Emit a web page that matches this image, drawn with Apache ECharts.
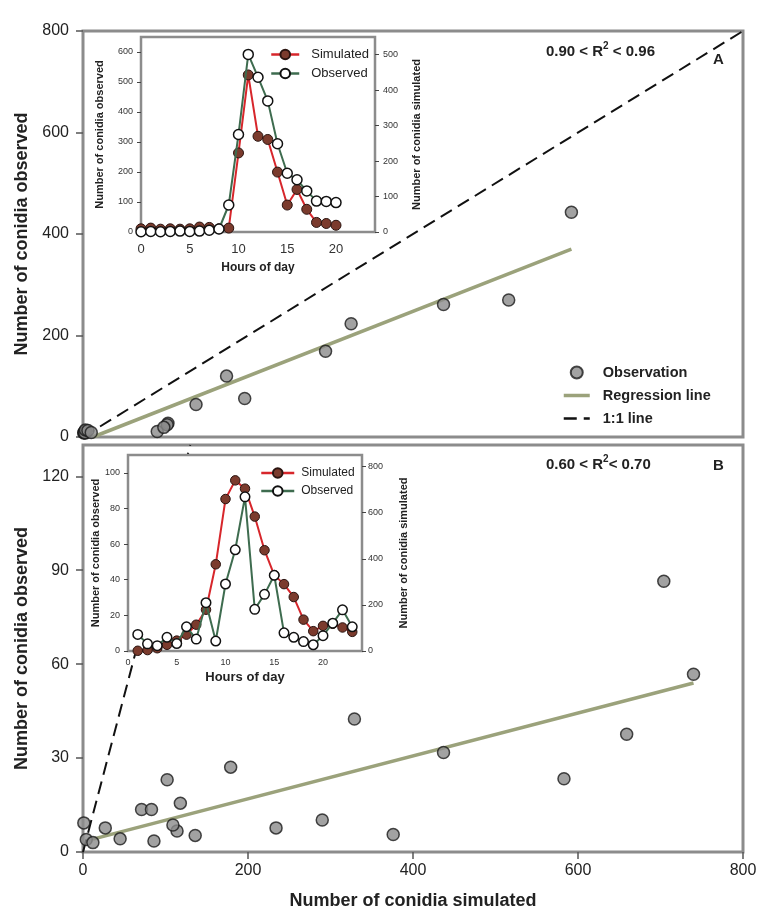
<!DOCTYPE html>
<html><head><meta charset="utf-8">
<script src="https://cdn.jsdelivr.net/npm/echarts@6/dist/echarts.min.js"></script>
<style>html,body{margin:0;padding:0;background:#fff}#c{width:771px;height:922px}</style>
</head><body><div id="c"></div>
<script>
// ---------- Panel A inset (hours 0-20) ----------
const hoursA = [0,1,2,3,4,5,6,7,8,9,10,11,12,13,14,15,16,17,18,19,20];
const obsA   = [1,2,1,2,3,2,3,6,10,90,325,592,516,437,294,196,174,137,103,102,98];   // left axis
const simA   = [9,11,8,9,8,9,14,13,9,11,223,443,270,261,169,76,120,64,27,24,19];      // right axis
// ---------- Panel B inset (hours 1-23) ----------
const hoursB = [1,2,3,4,5,6,7,8,9,10,11,12,13,14,15,16,17,18,19,20,21,22,23];
const simB   = [1,4,12,27,45,71,114,179,376,659,740,704,583,437,329,290,234,136,86,109,118,102,83];
const obsB   = [9.3,4.0,3.0,7.7,4.2,13.6,6.7,27.1,5.6,37.6,56.8,86.5,23.4,31.8,42.5,10.2,7.7,5.3,3.5,8.6,15.6,23.1,13.6];
// ---------- Regression and 1:1 lines ----------
const regAx = [12, 592], regAy = [0, 370];
const regBx = [12, 740], regBy = [4.1, 54];
const oneA = [0, 800];
const oneB = [0, 130];
// ---------- tick settings ----------
const mainXTicks = [0, 800, 200];
const yTicksA = [0, 800, 200];
const yTicksB = [0, 130, 30];

const zip = (a, b) => a.map((v, i) => [v, b[i]]);
const FONT = '"Liberation Sans", Arial, sans-serif';
const FRAME = '#8c8c8c';
const RED = '#d7262b', BROWN = '#7b3b2d', GREEN = '#3e6c4f', OLIVE = '#9ba27b';

const chart = echarts.init(document.getElementById('c'), null, {renderer: 'canvas'});

function mainY(grid, t, name) {
  return {gridIndex: grid, type: 'value', min: t[0], max: t[1], interval: t[2],
    axisLine: {show: false}, splitLine: {show: false},
    axisTick: {show: true, length: 7, lineStyle: {color: '#555', width: 1.5}},
    axisLabel: {fontSize: 16, color: '#222', fontFamily: FONT, margin: 14, showMaxLabel: grid === 0},
    name: name, nameLocation: 'middle', nameGap: 52,
    nameTextStyle: {fontSize: 18, fontWeight: 'bold', color: '#222', fontFamily: FONT}};
}
function insetX(grid, fs, margin, nameFs, nameGap) {
  return {gridIndex: grid, type: 'value', min: 0, max: 24, interval: 5, z: 5,
    axisLine: {show: false}, splitLine: {show: false}, axisTick: {show: false},
    axisLabel: {fontSize: fs, color: '#333', fontFamily: FONT, margin: margin, showMaxLabel: false},
    name: 'Hours of day', nameLocation: 'middle', nameGap: nameGap,
    nameTextStyle: {fontSize: nameFs, fontWeight: 'bold', color: '#222', fontFamily: FONT}};
}
function insetY(grid, max, interval, pos, name, nameGap, margin) {
  return {gridIndex: grid, type: 'value', min: 0, max: max, interval: interval, position: pos, z: 5,
    axisLine: {show: false}, splitLine: {show: false},
    axisTick: {show: true, length: 4, lineStyle: {color: '#444'}},
    axisLabel: {fontSize: 9, color: '#333', fontFamily: FONT, margin: margin, showMaxLabel: false},
    name: name, nameLocation: 'middle', nameGap: nameGap,
    nameTextStyle: {fontSize: 11, fontWeight: 'bold', color: '#222', fontFamily: FONT}};
}
const scatterStyle = {color: '#8b8b8b', borderColor: '#1a1a1a', borderWidth: 1.5};
function simSeries(x, y, xs, ys, size) {
  return {name: 'Simulated', type: 'line', xAxisIndex: x, yAxisIndex: y, data: zip(xs, ys), z: 6,
    symbol: 'circle', symbolSize: size, showSymbol: true,
    lineStyle: {color: RED, width: 2}, itemStyle: {color: BROWN, borderColor: '#2a1410', borderWidth: 1}};
}
function obsSeries(x, y, xs, ys, size) {
  return {name: 'Observed', type: 'line', xAxisIndex: x, yAxisIndex: y, data: zip(xs, ys), z: 7,
    symbol: 'circle', symbolSize: size, showSymbol: true,
    lineStyle: {color: GREEN, width: 2}, itemStyle: {color: '#fff', borderColor: '#111', borderWidth: 1.5}};
}
const noSymbol = {color: 'rgba(0,0,0,0)', borderColor: 'rgba(0,0,0,0)', borderWidth: 0, opacity: 0};

const option = {
  animation: false,
  backgroundColor: '#fff',
  textStyle: {fontFamily: FONT},
  grid: [
    {left: 83, top: 31, width: 660, height: 406, show: true, borderColor: FRAME, borderWidth: 3, backgroundColor: 'transparent', z: 0, outerBoundsMode: 'none'},
    {left: 83, top: 445, width: 660, height: 407, show: true, borderColor: FRAME, borderWidth: 3, backgroundColor: 'transparent', z: 0, outerBoundsMode: 'none'},
    {left: 141, top: 37, width: 234, height: 195, show: true, borderColor: FRAME, borderWidth: 2.5, backgroundColor: '#fff', z: 4, outerBoundsMode: 'none'},
    {left: 128, top: 455, width: 234, height: 196, show: true, borderColor: FRAME, borderWidth: 2.5, backgroundColor: '#fff', z: 4, outerBoundsMode: 'none'}
  ],
  xAxis: [
    {gridIndex: 0, type: 'value', min: mainXTicks[0], max: mainXTicks[1], interval: mainXTicks[2],
      axisLine: {show: false}, axisTick: {show: false}, axisLabel: {show: false}, splitLine: {show: false}},
    {gridIndex: 1, type: 'value', min: mainXTicks[0], max: mainXTicks[1], interval: mainXTicks[2],
      axisLine: {show: false}, splitLine: {show: false},
      axisTick: {show: true, length: 7, lineStyle: {color: '#555', width: 1.5}},
      axisLabel: {fontSize: 16, color: '#222', fontFamily: FONT, margin: 11},
      name: 'Number of conidia simulated', nameLocation: 'middle', nameGap: 40,
      nameTextStyle: {fontSize: 18, fontWeight: 'bold', color: '#222', fontFamily: FONT}},
    insetX(2, 13, 11, 12, 30),
    insetX(3, 9, 7, 13, 20)
  ],
  yAxis: [
    mainY(0, yTicksA, 'Number of conidia observed'),
    mainY(1, yTicksB, 'Number of conidia observed'),
    insetY(2, 650, 100, 'left', 'Number of conidia observed', 36, 8),
    insetY(2, 550, 100, 'right', 'Number of conidia simulated', 36, 8),
    insetY(3, 110, 20, 'left', 'Number of conidia observed', 25, 8),
    insetY(3, 850, 200, 'right', 'Number of conidia simulated', 36, 6)
  ],
  legend: [
    {data: [{name: 'Observation', icon: 'circle'},
            {name: 'Regression line', itemStyle: noSymbol, lineStyle: {width: 3.5, color: OLIVE}},
            {name: '1:1 line', itemStyle: noSymbol, lineStyle: {width: 2.5, color: '#111', type: [13, 7]}}],
      orient: 'vertical', left: 562, top: 365, padding: 0, itemWidth: 26, itemHeight: 12, itemGap: 8, selectedMode: false,
      textStyle: {fontSize: 14.5, fontWeight: 'bold', color: '#222', fontFamily: FONT, padding: [0, 0, 0, 8]}},
    {data: [{name: 'Simulated', lineStyle: {width: 2.5}}, {name: 'Observed', lineStyle: {width: 2.5}}],
      orient: 'vertical', left: 270, top: 48, padding: 0, z: 8,
      itemWidth: 28, itemHeight: 12, itemGap: 6, selectedMode: false,
      textStyle: {fontSize: 13, color: '#222', fontFamily: FONT, padding: [0, 0, 0, 7]}},
    {data: [{name: 'Simulated', lineStyle: {width: 2.5}}, {name: 'Observed', lineStyle: {width: 2.5}}],
      orient: 'vertical', left: 260, top: 467, padding: 0, z: 8,
      itemWidth: 33, itemHeight: 12, itemGap: 6, selectedMode: false,
      textStyle: {fontSize: 12, color: '#222', fontFamily: FONT, padding: [0, 0, 0, 2]}}
  ],
  graphic: [
    {type: 'text', left: 546, top: 41, z: 10, style: {text: '{a|0.90 < R}{s|2}{a| < 0.96}',
      rich: {a: {fontSize: 15, fontWeight: 'bold', fill: '#222', fontFamily: FONT, lineHeight: 18, verticalAlign: 'bottom'},
             s: {fontSize: 10, fontWeight: 'bold', fill: '#222', fontFamily: FONT, lineHeight: 18, verticalAlign: 'top'}}}},
    {type: 'text', left: 713, top: 52, z: 10, style: {text: 'A', fontSize: 15, fontWeight: 'bold', fill: '#222', fontFamily: FONT}},
    {type: 'text', left: 546, top: 454, z: 10, style: {text: '{a|0.60 < R}{s|2}{a|< 0.70}',
      rich: {a: {fontSize: 15, fontWeight: 'bold', fill: '#222', fontFamily: FONT, lineHeight: 18, verticalAlign: 'bottom'},
             s: {fontSize: 10, fontWeight: 'bold', fill: '#222', fontFamily: FONT, lineHeight: 18, verticalAlign: 'top'}}}},
    {type: 'text', left: 713, top: 458, z: 10, style: {text: 'B', fontSize: 15, fontWeight: 'bold', fill: '#222', fontFamily: FONT}}
  ],
  series: [
    {name: '1:1 line', type: 'line', xAxisIndex: 0, yAxisIndex: 0, data: zip(oneA, oneA), symbol: 'none', z: 1,
      lineStyle: {color: '#111', width: 2, type: [13, 7]}, itemStyle: {color: '#111'}},
    {name: 'Regression line', type: 'line', xAxisIndex: 0, yAxisIndex: 0, data: zip(regAx, regAy), symbol: 'none', z: 2,
      lineStyle: {color: OLIVE, width: 3.5}, itemStyle: {color: OLIVE}},
    {name: 'Observation', type: 'scatter', xAxisIndex: 0, yAxisIndex: 0, data: zip(obsA, simA), symbolSize: 12, z: 3,
      itemStyle: scatterStyle},
    {name: '1:1 line', type: 'line', xAxisIndex: 1, yAxisIndex: 1, data: zip(oneB, oneB), symbol: 'none', z: 1,
      lineStyle: {color: '#111', width: 2, type: [13, 7]}, itemStyle: {color: '#111'}},
    {name: 'Regression line', type: 'line', xAxisIndex: 1, yAxisIndex: 1, data: zip(regBx, regBy), symbol: 'none', z: 2,
      lineStyle: {color: OLIVE, width: 3.5}, itemStyle: {color: OLIVE}},
    {name: 'Observation', type: 'scatter', xAxisIndex: 1, yAxisIndex: 1, data: zip(simB, obsB), symbolSize: 12, z: 3,
      itemStyle: scatterStyle},
    simSeries(2, 3, hoursA, simA, 10),
    obsSeries(2, 2, hoursA, obsA, 10),
    simSeries(3, 5, hoursB, simB, 9.5),
    obsSeries(3, 4, hoursB, obsB, 9.5)
  ]
};
chart.setOption(option);
</script></body></html>
